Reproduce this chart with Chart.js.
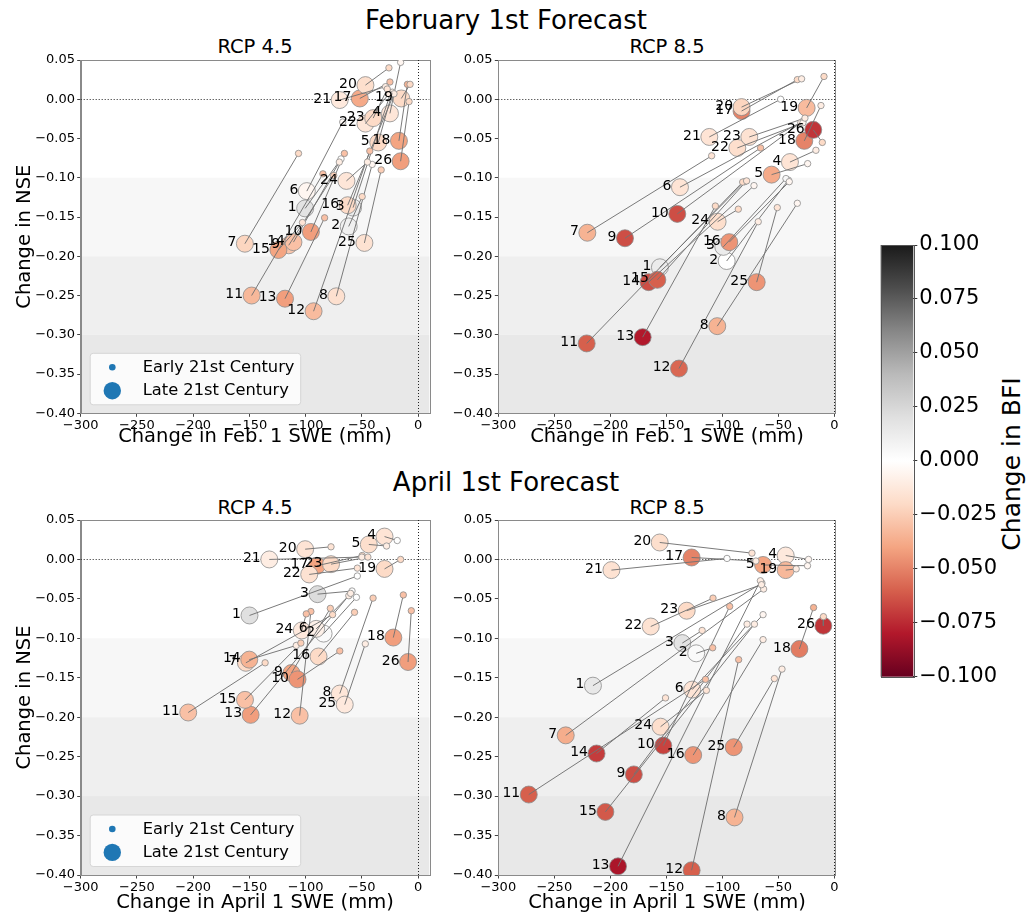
<!DOCTYPE html>
<html>
<head>
<meta charset="utf-8">
<script src="https://cdn.jsdelivr.net/npm/chart.js@4.4.1/dist/chart.umd.min.js"></script>
<style>
  html, body { margin: 0; padding: 0; background: #fff; overflow: hidden; }
  body { width: 1028px; height: 917px; position: relative; font-family: "DejaVu Sans", sans-serif; color: #000; }
  canvas { position: absolute; }
  .txt { position: absolute; white-space: nowrap; line-height: 1; transform: translate(-50%, -50%); }
</style>
</head>
<body>
<div class="txt" style="left:506px; top:20px; font-size:26px;">February 1st Forecast</div>
<div class="txt" style="left:255px; top:47px; font-size:19.5px;">RCP 4.5</div>
<div class="txt" style="left:667px; top:47px; font-size:19.5px;">RCP 8.5</div>
<div class="txt" style="left:506px; top:482px; font-size:26px;">April 1st Forecast</div>
<div class="txt" style="left:255px; top:508px; font-size:19.5px;">RCP 4.5</div>
<div class="txt" style="left:667px; top:508px; font-size:19.5px;">RCP 8.5</div>
<div class="txt" style="left:1011px; top:464px; font-size:25px; transform: translate(-50%, -50%) rotate(-90deg);">Change in BFI</div>

<canvas id="febRcp45" width="440" height="410" style="left:0px; top:50px;"></canvas>
<canvas id="febRcp85" width="420" height="410" style="left:440px; top:50px;"></canvas>
<canvas id="aprRcp45" width="440" height="410" style="left:0px; top:510px;"></canvas>
<canvas id="aprRcp85" width="420" height="410" style="left:440px; top:510px;"></canvas>
<canvas id="bfiBar" width="168" height="470" style="left:860px; top:230px;"></canvas>

<script>
// ---- Station ids and axis ticks ----
const stations = ['1','2','3','4','5','6','7','8','9','10','11','12','13','14','15','16','17','18','19','20','21','22','23','24','25','26'];
const sweTicks = [-300, -250, -200, -150, -100, -50, 0];
const nseTicks = [0.05, 0, -0.05, -0.1, -0.15, -0.2, -0.25, -0.3, -0.35, -0.4];
const bfiTicks = [-0.1, -0.075, -0.05, -0.025, 0, 0.025, 0.05, 0.075, 0.1];

// ---- February 1st forecast, RCP 4.5 ----
const febRcp45LateSwe  = [-100.4, -61.7, -57.8, -25.0, -35.4, -98.9, -154.0, -72.7, -115.0, -95.3, -148.0, -92.9, -118.3, -110.8, -124.2, -62.6, -51.8, -17.0, -14.9, -46.8, -69.7, -46.8, -39.9, -63.7, -47.7, -15.5];
const febRcp45LateNse  = [-0.139, -0.162, -0.138, -0.018, -0.055, -0.117, -0.184, -0.251, -0.186, -0.169, -0.250, -0.270, -0.254, -0.182, -0.192, -0.135, 0.001, -0.053, 0.001, 0.018, -0.001, -0.031, -0.024, -0.104, -0.183, -0.079];
const febRcp45LateBfi  = [0.018, 0.010, 0.012, -0.014, -0.020, -0.005, -0.022, -0.017, -0.028, -0.042, -0.033, -0.032, -0.042, -0.030, -0.040, -0.020, -0.038, -0.040, -0.020, -0.018, -0.012, -0.014, -0.020, -0.014, -0.016, -0.042];
const febRcp45EarlySwe = [-68.5, -49.7, -24.4, -15.5, -22.9, -67.0, -106.3, -40.8, -75.0, -65.5, -84.6, -42.9, -83.1, -70.0, -102.8, -21.4, -25.0, -9.5, -7.1, -25.9, -28.9, -25.9, -27.4, -45.0, -32.8, -8.0];
const febRcp45EarlyNse = [-0.076, -0.124, 0.008, 0.047, 0.009, -0.029, -0.069, -0.083, -0.097, -0.069, -0.095, -0.066, -0.151, -0.080, -0.157, 0.007, 0.022, 0.019, 0.019, 0.040, 0.016, 0.007, 0.013, -0.080, -0.090, -0.003];
const febRcp45EarlyBfi = [0.000, -0.020, 0.000, -0.005, -0.010, -0.003, -0.020, -0.005, -0.025, -0.030, -0.030, -0.030, -0.030, -0.010, -0.015, -0.010, -0.030, -0.035, -0.020, -0.020, -0.010, -0.010, -0.015, -0.010, -0.025, -0.020];

// ---- February 1st forecast, RCP 8.5 ----
const febRcp85LateSwe  = [-155.7, -96.1, -99.1, -39.6, -56.0, -137.8, -220.5, -104.5, -186.9, -140.2, -221.1, -138.7, -171.1, -165.8, -158.0, -93.8, -82.8, -26.8, -24.7, -82.8, -111.6, -86.6, -75.9, -104.2, -69.3, -18.8];
const febRcp85LateNse  = [-0.214, -0.206, -0.188, -0.080, -0.096, -0.112, -0.170, -0.289, -0.177, -0.146, -0.311, -0.343, -0.303, -0.233, -0.230, -0.182, -0.015, -0.053, -0.011, -0.010, -0.048, -0.062, -0.048, -0.156, -0.233, -0.039];
const febRcp85LateBfi  = [0.012, 0.000, 0.012, -0.015, -0.038, -0.015, -0.035, -0.035, -0.065, -0.065, -0.060, -0.058, -0.080, -0.065, -0.060, -0.045, -0.050, -0.050, -0.032, -0.022, -0.015, -0.018, -0.016, -0.018, -0.045, -0.072];
const febRcp85EarlySwe = [-80.0, -41.0, -43.2, -16.4, -23.8, -28.0, -109.5, -33.0, -65.8, -30.0, -81.8, -67.9, -106.2, -71.7, -78.3, -40.2, -33.0, -11.9, -9.2, -29.2, -47.9, -28.0, -26.2, -85.7, -50.9, -10.7];
const febRcp85EarlyNse = [-0.105, -0.103, -0.101, -0.065, -0.082, -0.028, -0.072, -0.1325, -0.062, -0.030, -0.1055, -0.156, -0.136, -0.110, -0.104, -0.105, 0.025, -0.008, 0.029, 0.026, 0.000, -0.030, -0.024, -0.140, -0.138, -0.055];
const febRcp85EarlyBfi = [-0.005, 0.000, 0.005, -0.010, -0.005, -0.005, -0.015, -0.005, -0.030, -0.010, -0.020, -0.010, -0.020, -0.005, -0.015, -0.005, -0.020, -0.010, -0.020, -0.010, 0.000, -0.005, -0.010, -0.020, -0.015, -0.020];

// ---- April 1st forecast, RCP 4.5 ----
const aprRcp45LateSwe  = [-149.9, -84.0, -89.4, -29.8, -43.8, -90.6, -153.1, -69.6, -112.6, -107.2, -204.4, -105.3, -148.9, -150.1, -153.9, -88.5, -90.0, -22.0, -29.8, -100.4, -132.3, -96.8, -77.4, -103.4, -65.2, -8.9];
const aprRcp45LateNse  = [-0.071, -0.094, -0.044, 0.029, 0.019, -0.088, -0.131, -0.170, -0.144, -0.152, -0.194, -0.198, -0.197, -0.127, -0.178, -0.123, -0.008, -0.099, -0.012, 0.013, 0.000, -0.019, -0.006, -0.090, -0.184, -0.130];
const aprRcp45LateBfi  = [0.020, 0.003, 0.022, -0.015, -0.018, -0.008, -0.020, -0.014, -0.040, -0.045, -0.030, -0.030, -0.042, -0.035, -0.030, -0.020, -0.040, -0.042, -0.020, -0.015, -0.010, -0.016, -0.020, -0.012, -0.012, -0.042];
const aprRcp45EarlySwe = [-54.0, -54.8, -58.7, -18.5, -28.0, -61.6, -76.0, -40.0, -78.0, -69.6, -136.0, -95.3, -60.0, -108.3, -104.2, -56.5, -49.7, -13.1, -15.5, -77.4, -50.0, -54.0, -44.6, -99.4, -46.9, -6.0];
const aprRcp45EarlyNse = [-0.021, -0.048, -0.040, 0.024, 0.017, -0.046, -0.070, -0.049, -0.062, -0.116, -0.131, -0.066, -0.043, -0.109, -0.106, -0.067, 0.005, -0.045, 0.000, 0.016, 0.003, -0.011, 0.003, -0.069, -0.107, -0.065];
const aprRcp45EarlyBfi = [0.000, 0.000, 0.002, 0.000, -0.010, -0.010, -0.020, -0.025, -0.025, -0.030, -0.020, -0.030, -0.010, -0.010, -0.025, -0.025, -0.020, -0.030, -0.020, -0.015, -0.010, -0.015, -0.015, -0.030, -0.010, -0.030];

// ---- April 1st forecast, RCP 8.5 ----
const aprRcp85LateSwe  = [-215.5, -123.3, -135.7, -43.4, -63.6, -126.9, -239.8, -89.1, -179.0, -152.7, -272.8, -127.4, -193.1, -212.3, -204.4, -126.0, -127.4, -31.2, -43.4, -155.9, -199.0, -163.9, -131.8, -155.1, -89.8, -9.8];
const aprRcp85LateNse  = [-0.160, -0.119, -0.106, 0.005, -0.007, -0.165, -0.223, -0.327, -0.2725, -0.236, -0.298, -0.394, -0.389, -0.246, -0.320, -0.248, 0.0025, -0.1135, -0.0135, 0.0215, -0.0135, -0.085, -0.065, -0.212, -0.238, -0.084];
const aprRcp85LateBfi  = [0.015, 0.003, 0.018, -0.012, -0.040, -0.015, -0.037, -0.035, -0.065, -0.068, -0.060, -0.060, -0.082, -0.070, -0.062, -0.045, -0.050, -0.052, -0.033, -0.018, -0.016, -0.016, -0.020, -0.018, -0.045, -0.072];
const aprRcp85EarlySwe = [-64.6, -108.6, -118.0, -23.0, -23.9, -63.6, -63.1, -46.7, -77.9, -93.4, -115.0, -85.4, -66.0, -150.7, -71.3, -63.6, -70.0, -18.5, -34.0, -73.5, -95.8, -108.3, -65.0, -114.2, -53.5, -9.7];
const aprRcp85EarlyNse = [-0.030, -0.112, -0.090, 0.000, -0.008, -0.070, -0.0375, -0.139, -0.082, -0.0595, -0.152, -0.127, -0.027, -0.1755, -0.082, -0.1016, -0.002, -0.061, -0.012, 0.008, 0.0013, -0.049, -0.032, -0.166, -0.151, -0.0725];
const aprRcp85EarlyBfi = [-0.005, -0.030, -0.015, -0.005, -0.005, -0.005, -0.010, -0.010, -0.010, -0.030, -0.030, -0.030, -0.010, -0.015, -0.010, -0.010, -0.010, -0.035, -0.010, -0.015, 0.000, -0.025, -0.010, -0.015, -0.015, -0.020];

// ---- RdGy colour map for change in BFI (-0.1 .. 0.1) ----
const rdgy = ['#67001f', '#b2182b', '#d6604d', '#f4a582', '#fddbc7', '#ffffff', '#e0e0e0', '#bababa', '#878787', '#4d4d4d', '#1a1a1a'];
function hexRgb(h) { return [1, 3, 5].map(i => parseInt(h.slice(i, i + 2), 16)); }
function bfiColor(v) {
  let t = (v + 0.1) / 0.2;
  t = Math.max(0, Math.min(1, t));
  const f = t * (rdgy.length - 1);
  const i = Math.min(rdgy.length - 2, Math.floor(f));
  const u = f - i;
  const a = hexRgb(rdgy[i]), b = hexRgb(rdgy[i + 1]);
  const c = a.map((ai, k) => Math.round(ai + (b[k] - ai) * u));
  return `rgb(${c[0]},${c[1]},${c[2]})`;
}

const MINUS = '\u2212';
function fmt(v, d) {
  const r = Number(v.toFixed(d));
  return (r < 0 ? MINUS : '') + Math.abs(r).toFixed(d);
}

Chart.defaults.font.family = "'DejaVu Sans', sans-serif";
Chart.defaults.color = '#000';

// Shaded NSE bands, plot frame and zero reference lines
const backdrop = {
  id: 'backdrop',
  beforeDraw(chart) {
    const { ctx, chartArea: a, scales: { y } } = chart;
    const shades = [[-0.1, -0.2, '#f7f7f7'], [-0.2, -0.3, '#efefef'], [-0.3, -0.4, '#e8e8e8']];
    ctx.save();
    for (const [hi, lo, c] of shades) {
      const t = y.getPixelForValue(hi), b = y.getPixelForValue(lo);
      ctx.fillStyle = c;
      ctx.fillRect(a.left, t, a.right - a.left, b - t);
    }
    ctx.restore();
  },
  beforeDatasetsDraw(chart) {
    const { ctx, chartArea: a, scales: { x, y } } = chart;
    ctx.save();
    ctx.strokeStyle = '#8a8a8a';
    ctx.lineWidth = 1;
    ctx.strokeRect(Math.round(a.left) + 0.5, Math.round(a.top) + 0.5, Math.round(a.right - a.left), Math.round(a.bottom - a.top));
    ctx.strokeStyle = '#222';
    ctx.setLineDash([1, 2]);
    const y0 = Math.round(y.getPixelForValue(0)) + 0.5;
    ctx.beginPath(); ctx.moveTo(a.left, y0); ctx.lineTo(a.right, y0); ctx.stroke();
    const x0 = Math.round(x.getPixelForValue(0)) + 0.5;
    ctx.beginPath(); ctx.moveTo(x0, a.top); ctx.lineTo(x0, a.bottom); ctx.stroke();
    ctx.restore();
  }
};

// Station numbers beside the late-century markers
const stationLabels = {
  id: 'stationLabels',
  afterDatasetsDraw(chart) {
    const meta = chart.getDatasetMeta(chart.data.datasets.findIndex(d => d.label === 'Late 21st Century'));
    const { ctx } = chart;
    ctx.save();
    ctx.font = "14px 'DejaVu Sans', sans-serif";
    ctx.fillStyle = '#000';
    ctx.textAlign = 'right';
    ctx.textBaseline = 'middle';
    meta.data.forEach((pt, i) => ctx.fillText(stations[i], pt.x - 8.5, pt.y - 1));
    ctx.restore();
  }
};

// Marker-size key drawn inside the lower-left corner of the panel
const sizeKey = {
  id: 'sizeKey',
  afterDraw(chart, args, opts) {
    if (!opts.show) return;
    const { ctx, chartArea: a } = chart;
    const bx = a.left + 9.5, by = a.bottom - 60, bw = 210.5, bh = 51.5, r = 3;
    ctx.save();
    ctx.beginPath();
    ctx.moveTo(bx + r, by);
    ctx.arcTo(bx + bw, by, bx + bw, by + bh, r);
    ctx.arcTo(bx + bw, by + bh, bx, by + bh, r);
    ctx.arcTo(bx, by + bh, bx, by, r);
    ctx.arcTo(bx, by, bx + bw, by, r);
    ctx.closePath();
    ctx.fillStyle = 'rgba(255,255,255,0.8)';
    ctx.fill();
    ctx.strokeStyle = '#d6d6d6';
    ctx.lineWidth = 1;
    ctx.stroke();
    const rows = [['Early 21st Century', 3.3, a.bottom - 46], ['Late 21st Century', 8.7, a.bottom - 22.6]];
    ctx.font = "16.3px 'DejaVu Sans', sans-serif";
    ctx.textBaseline = 'middle';
    ctx.textAlign = 'left';
    for (const [txt, rad, yy] of rows) {
      ctx.beginPath();
      ctx.arc(a.left + 31.6, yy, rad, 0, Math.PI * 2);
      ctx.fillStyle = '#1f77b4';
      ctx.fill();
      ctx.fillStyle = '#000';
      ctx.fillText(txt, a.left + 62, yy + 0.5);
    }
    ctx.restore();
  }
};

function panel(id, p) {
  const n = stations.length;
  const datasets = [];
  datasets.push({
    type: 'scatter', label: 'Late 21st Century', order: 2,
    data: stations.map((s, i) => ({ x: p.lateSwe[i], y: p.lateNse[i] })),
    pointRadius: 8.5, pointBorderWidth: 0.8,
    pointBackgroundColor: p.lateBfi.map(bfiColor), pointBorderColor: '#8c8c8c'
  });
  for (let i = 0; i < n; i++) {
    datasets.push({
      type: 'line', label: 'link ' + stations[i], order: 1,
      data: [{ x: p.earlySwe[i], y: p.earlyNse[i] }, { x: p.lateSwe[i], y: p.lateNse[i] }],
      borderColor: 'rgba(115,115,115,0.95)', borderWidth: 1, pointRadius: 0, fill: false, tension: 0
    });
  }
  datasets.push({
    type: 'scatter', label: 'Early 21st Century', order: 0,
    data: stations.map((s, i) => ({ x: p.earlySwe[i], y: p.earlyNse[i] })),
    pointRadius: 3.2, pointBorderWidth: 0.8,
    pointBackgroundColor: p.earlyBfi.map(bfiColor), pointBorderColor: '#8c8c8c'
  });

  return new Chart(document.getElementById(id), {
    type: 'scatter',
    data: { datasets },
    options: {
      responsive: false, animation: false, events: [],
      layout: { padding: { left: 0, top: p.padTop, right: p.padRight, bottom: 0 } },
      plugins: { legend: { display: false }, tooltip: { enabled: false }, sizeKey: { show: p.key } },
      scales: {
        x: {
          type: 'linear', min: -300, max: p.xMax, bounds: 'data',
          afterBuildTicks: s => { s.ticks = sweTicks.map(v => ({ value: v })); },
          afterFit: s => { s.height = p.xAxisH; },
          ticks: { callback: v => fmt(v, 0), font: { size: 13 }, color: '#000', padding: 1, maxRotation: 0, autoSkip: false },
          grid: { drawOnChartArea: false, drawTicks: true, tickLength: 3.5, color: '#444', tickWidth: 1 },
          border: { display: true, color: '#8a8a8a', width: 1 },
          title: { display: true, text: p.xTitle, font: { size: 19.5 }, color: '#000', padding: { top: 0, bottom: p.xTitlePad } }
        },
        y: {
          type: 'linear', min: -0.4, max: 0.05, bounds: 'data',
          afterBuildTicks: s => { s.ticks = nseTicks.map(v => ({ value: v })); },
          afterFit: s => { s.width = p.yAxisW; },
          ticks: { callback: v => fmt(v, 2), font: { size: 13 }, color: '#000', padding: 2.2, autoSkip: false },
          grid: { drawOnChartArea: false, drawTicks: true, tickLength: 3.5, color: '#444', tickWidth: 1 },
          border: { display: true, color: '#8a8a8a', width: 1 },
          title: { display: p.yTitle !== '', text: p.yTitle, font: { size: 19.5 }, color: '#000', padding: { top: 13.3, bottom: 0 } }
        }
      }
    },
    plugins: [backdrop, stationLabels, sizeKey]
  });
}

panel('febRcp45', {
  lateSwe: febRcp45LateSwe, lateNse: febRcp45LateNse, lateBfi: febRcp45LateBfi,
  earlySwe: febRcp45EarlySwe, earlyNse: febRcp45EarlyNse, earlyBfi: febRcp45EarlyBfi,
  xMax: 10, padTop: 8.3, padRight: 10.7, xAxisH: 46.7, yAxisW: 80.7, xTitlePad: 11.3,
  xTitle: 'Change in Feb. 1 SWE (mm)', yTitle: 'Change in NSE', key: true
});
panel('febRcp85', {
  lateSwe: febRcp85LateSwe, lateNse: febRcp85LateNse, lateBfi: febRcp85LateBfi,
  earlySwe: febRcp85EarlySwe, earlyNse: febRcp85EarlyNse, earlyBfi: febRcp85EarlyBfi,
  xMax: 1.25, padTop: 8.3, padRight: 24.3, xAxisH: 46.7, yAxisW: 58.3, xTitlePad: 11.3,
  xTitle: 'Change in Feb. 1 SWE (mm)', yTitle: '', key: false
});
panel('aprRcp45', {
  lateSwe: aprRcp45LateSwe, lateNse: aprRcp45LateNse, lateBfi: aprRcp45LateBfi,
  earlySwe: aprRcp45EarlySwe, earlyNse: aprRcp45EarlyNse, earlyBfi: aprRcp45EarlyBfi,
  xMax: 10, padTop: 10, padRight: 10.7, xAxisH: 45, yAxisW: 80.7, xTitlePad: 5.3,
  xTitle: 'Change in April 1 SWE (mm)', yTitle: 'Change in NSE', key: true
});
panel('aprRcp85', {
  lateSwe: aprRcp85LateSwe, lateNse: aprRcp85LateNse, lateBfi: aprRcp85LateBfi,
  earlySwe: aprRcp85EarlySwe, earlyNse: aprRcp85EarlyNse, earlyBfi: aprRcp85EarlyBfi,
  xMax: 1.25, padTop: 10, padRight: 24.3, xAxisH: 45, yAxisW: 58.3, xTitlePad: 5.3,
  xTitle: 'Change in April 1 SWE (mm)', yTitle: '', key: false
});

// Colour bar for change in BFI
const colorRamp = {
  id: 'colorRamp',
  beforeDatasetsDraw(chart) {
    const { ctx, chartArea: a, scales: { y } } = chart;
    const g = ctx.createLinearGradient(0, y.getPixelForValue(-0.1), 0, y.getPixelForValue(0.1));
    rdgy.forEach((c, i) => g.addColorStop(i / (rdgy.length - 1), c));
    ctx.save();
    ctx.fillStyle = g;
    ctx.fillRect(a.left, a.top, a.right - a.left, a.bottom - a.top);
    ctx.strokeStyle = '#555';
    ctx.lineWidth = 1;
    ctx.strokeRect(Math.round(a.left) + 0.5, Math.round(a.top) + 0.5, Math.round(a.right - a.left), Math.round(a.bottom - a.top));
    ctx.restore();
  }
};
new Chart(document.getElementById('bfiBar'), {
  type: 'scatter',
  data: { datasets: [] },
  options: {
    responsive: false, animation: false, events: [],
    layout: { padding: { left: 20.7, top: 15, right: 0, bottom: 23.3 } },
    plugins: { legend: { display: false }, tooltip: { enabled: false } },
    scales: {
      x: { display: false, min: 0, max: 1 },
      y: {
        position: 'right', min: -0.1, max: 0.1, bounds: 'data',
        afterBuildTicks: s => { s.ticks = bfiTicks.map(v => ({ value: v })); },
        afterFit: s => { s.width = 114.7; },
        ticks: { callback: v => fmt(v, 3), font: { size: 21 }, color: '#000', padding: 2, autoSkip: false },
        grid: { drawOnChartArea: false, drawTicks: true, tickLength: 4, color: '#333' },
        border: { display: false }
      }
    }
  },
  plugins: [colorRamp]
});
</script>
</body>
</html>
